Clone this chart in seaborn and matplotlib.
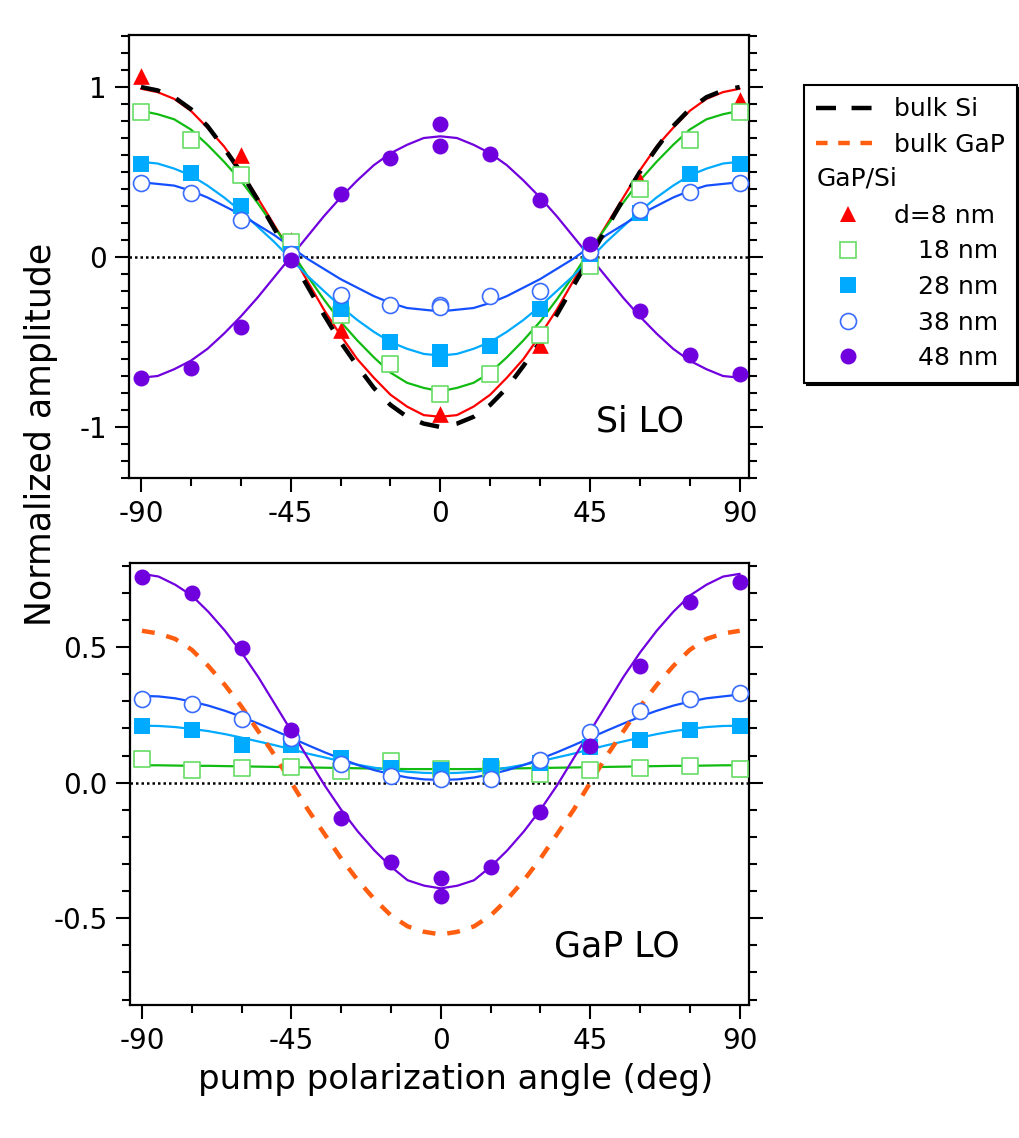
import matplotlib
matplotlib.use("Agg")
import matplotlib.pyplot as plt
import seaborn as sns
from matplotlib.lines import Line2D
from matplotlib.text import Text
from matplotlib.legend_handler import HandlerBase
from matplotlib.ticker import MultipleLocator, FixedLocator, FormatStrFormatter

# ---------- data ----------
ANGLES = [-90, -75, -60, -45, -30, -15, 0, 15, 30, 45, 60, 75, 90]
CURVE_ANGLES = list(range(-90, 91, 5))

# Si LO panel: fitted curves (read every 5 deg)
si_bulk_si = [1.0, 0.98, 0.94, 0.87, 0.77, 0.64, 0.5, 0.34, 0.17, 0.0, -0.17, -0.34, -0.5,
              -0.64, -0.77, -0.87, -0.94, -0.98, -1.0, -0.98, -0.94, -0.87, -0.77, -0.64,
              -0.5, -0.34, -0.17, 0.0, 0.17, 0.34, 0.5, 0.64, 0.77, 0.87, 0.94, 0.98, 1.0]
si_fit_8 = [0.99, 0.97, 0.93, 0.86, 0.76, 0.65, 0.51, 0.35, 0.19, 0.03, -0.14, -0.31, -0.46,
            -0.6, -0.71, -0.81, -0.88, -0.93, -0.94, -0.93, -0.88, -0.81, -0.71, -0.6,
            -0.46, -0.31, -0.14, 0.03, 0.19, 0.35, 0.51, 0.65, 0.76, 0.86, 0.93, 0.97, 0.99]
si_fit_18 = [0.86, 0.84, 0.81, 0.75, 0.66, 0.56, 0.45, 0.32, 0.18, 0.04, -0.11, -0.25, -0.38,
             -0.49, -0.59, -0.68, -0.74, -0.77, -0.79, -0.77, -0.74, -0.68, -0.59, -0.49,
             -0.38, -0.25, -0.11, 0.04, 0.18, 0.32, 0.45, 0.56, 0.66, 0.75, 0.81, 0.84, 0.86]
si_fit_28 = [0.56, 0.55, 0.52, 0.48, 0.42, 0.35, 0.27, 0.18, 0.09, -0.01, -0.11, -0.2, -0.29,
             -0.37, -0.44, -0.5, -0.54, -0.57, -0.58, -0.57, -0.54, -0.5, -0.44, -0.37,
             -0.29, -0.2, -0.11, -0.01, 0.09, 0.18, 0.27, 0.35, 0.42, 0.48, 0.52, 0.55, 0.56]
si_fit_38 = [0.44, 0.43, 0.42, 0.39, 0.35, 0.3, 0.25, 0.19, 0.13, 0.06, -0.01, -0.07, -0.13,
             -0.18, -0.23, -0.27, -0.3, -0.31, -0.32, -0.31, -0.3, -0.27, -0.23, -0.18,
             -0.13, -0.07, -0.01, 0.06, 0.13, 0.19, 0.25, 0.3, 0.35, 0.39, 0.42, 0.43, 0.44]
si_fit_48 = [-0.71, -0.7, -0.66, -0.61, -0.54, -0.45, -0.35, -0.24, -0.12, 0.0, 0.12, 0.24,
             0.35, 0.45, 0.54, 0.61, 0.66, 0.7, 0.71, 0.7, 0.66, 0.61, 0.54, 0.45, 0.35,
             0.24, 0.12, 0.0, -0.12, -0.24, -0.35, -0.45, -0.54, -0.61, -0.66, -0.7, -0.71]

# Si LO panel: measured points
si_x_8 = [-90, -60, -45, -30, 0, 30, 60, 90]
si_y_8 = [1.065, 0.6, 0.1, -0.43, -0.925, -0.52, 0.445, 0.925]
si_y_18 = [0.855, 0.69, 0.48, 0.09, -0.34, -0.63, -0.805, -0.69, -0.46, -0.055, 0.4, 0.69, 0.855]
si_x_28 = ANGLES + [0]
si_y_28 = [0.55, 0.495, 0.3, 0.02, -0.305, -0.5, -0.56, -0.525, -0.305, 0.015, 0.26, 0.49, 0.55, -0.6]
si_x_38 = ANGLES + [0]
si_y_38 = [0.437, 0.375, 0.215, 0.02, -0.225, -0.28, -0.28, -0.23, -0.2, 0.03, 0.275, 0.385, 0.435, -0.295]
si_x_48 = ANGLES + [0]
si_y_48 = [-0.71, -0.655, -0.41, -0.02, 0.37, 0.585, 0.785, 0.605, 0.335, 0.075, -0.315, -0.575, -0.69, 0.655]

# GaP LO panel: fitted curves (read every 5 deg)
gap_bulk_gap = [0.56, 0.55, 0.53, 0.49, 0.43, 0.36, 0.28, 0.19, 0.1, 0.0, -0.1, -0.19, -0.28,
                -0.36, -0.43, -0.49, -0.53, -0.55, -0.56, -0.55, -0.53, -0.49, -0.43, -0.36,
                -0.28, -0.19, -0.1, 0.0, 0.1, 0.19, 0.28, 0.36, 0.43, 0.49, 0.53, 0.55, 0.56]
gap_fit_18 = [0.064, 0.064, 0.063, 0.062, 0.062, 0.061, 0.06, 0.059, 0.058, 0.057, 0.056,
              0.055, 0.054, 0.053, 0.052, 0.051, 0.05, 0.05, 0.05, 0.05, 0.05, 0.051, 0.052,
              0.053, 0.054, 0.055, 0.056, 0.057, 0.058, 0.059, 0.06, 0.061, 0.062, 0.062,
              0.063, 0.064, 0.064]
gap_fit_28 = [0.21, 0.209, 0.205, 0.198, 0.19, 0.179, 0.166, 0.152, 0.138, 0.123, 0.107,
              0.093, 0.079, 0.066, 0.055, 0.047, 0.04, 0.036, 0.035, 0.036, 0.04, 0.047,
              0.055, 0.066, 0.079, 0.093, 0.107, 0.123, 0.138, 0.152, 0.166, 0.179, 0.19,
              0.198, 0.205, 0.209, 0.21]
gap_fit_38 = [0.32, 0.318, 0.311, 0.299, 0.284, 0.265, 0.243, 0.218, 0.192, 0.165, 0.138,
              0.112, 0.088, 0.065, 0.046, 0.031, 0.019, 0.012, 0.01, 0.012, 0.019, 0.031,
              0.046, 0.065, 0.088, 0.112, 0.138, 0.165, 0.192, 0.218, 0.243, 0.265, 0.284,
              0.299, 0.311, 0.318, 0.325]
gap_fit_48 = [0.77, 0.76, 0.73, 0.69, 0.63, 0.56, 0.48, 0.39, 0.29, 0.19, 0.09, -0.01, -0.1,
              -0.18, -0.25, -0.31, -0.36, -0.38, -0.39, -0.38, -0.36, -0.31, -0.25, -0.18,
              -0.1, -0.01, 0.09, 0.19, 0.29, 0.39, 0.48, 0.56, 0.63, 0.69, 0.73, 0.76, 0.77]

# GaP LO panel: measured points
gap_y_18 = [0.086, 0.046, 0.055, 0.059, 0.043, 0.08, 0.05, 0.05, 0.032, 0.045, 0.055, 0.062, 0.052]
gap_y_28 = [0.21, 0.195, 0.14, 0.137, 0.09, 0.055, 0.045, 0.063, 0.072, 0.13, 0.157, 0.193, 0.21]
gap_y_38 = [0.31, 0.29, 0.235, 0.165, 0.067, 0.023, 0.012, 0.015, 0.085, 0.185, 0.265, 0.31, 0.33]
gap_x_48 = ANGLES + [0]
gap_y_48 = [0.76, 0.7, 0.495, 0.195, -0.132, -0.294, -0.352, -0.31, -0.108, 0.135, 0.43, 0.665, 0.74, -0.419]

LEGEND_LABELS = ["bulk Si", "bulk GaP", "GaP/Si", "d=8 nm", "   18 nm", "   28 nm", "   38 nm", "   48 nm"]

# ---------- style ----------
RED = "#ff0000"
GREEN_LINE = "#11bb11"
GREEN_MK = "#66dd66"
LBLUE = "#00aaff"
BLUE_LINE = "#1450ff"
BLUE_MK = "#3a6cff"
PURPLE = "#7000dd"
ORANGE = "#ff5e10"

sns.set_style("ticks")
plt.rcParams["font.family"] = ["DejaVu Sans"]
plt.rcParams["axes.unicode_minus"] = False
for key in ("text.color", "axes.labelcolor", "xtick.color", "ytick.color", "axes.edgecolor"):
    plt.rcParams[key] = "black"

fig = plt.figure(figsize=(10.2, 11.38), dpi=100)
ax1 = fig.add_axes([129 / 1020, 1 - 478 / 1138, 620 / 1020, 443 / 1138])
ax2 = fig.add_axes([130 / 1020, 1 - 1005 / 1138, 619 / 1020, 442 / 1138])


def fit_line(ax, y, color, lw=1.6, dashes=None, z=2):
    sns.lineplot(x=CURVE_ANGLES, y=y, ax=ax, color=color, lw=lw,
                 estimator=None, sort=False, zorder=z)
    if dashes is not None:
        ax.lines[-1].set_dashes(dashes)
        ax.lines[-1].set_dash_capstyle("butt")


def points(ax, x, y, marker, size, face, edge, lw=1.2):
    sns.scatterplot(x=x, y=y, ax=ax, marker=marker, s=size ** 2, color=face,
                    edgecolor=edge, linewidth=lw, zorder=3)


# ---- Si LO ----
ax1.axhline(0, color="black", lw=1.8, ls=(0, (1, 1.2)), zorder=1)
fit_line(ax1, si_fit_8, RED)
fit_line(ax1, si_fit_18, GREEN_LINE)
fit_line(ax1, si_fit_28, LBLUE)
fit_line(ax1, si_fit_38, BLUE_LINE)
fit_line(ax1, si_fit_48, PURPLE)
fit_line(ax1, si_bulk_si, "black", lw=3.2, dashes=(4.4, 4.0), z=2.5)
points(ax1, si_x_8, si_y_8, "^", 12, RED, RED, 0)
points(ax1, ANGLES, si_y_18, "s", 11, "white", GREEN_MK)
points(ax1, si_x_28, si_y_28, "s", 11, LBLUE, LBLUE, 0)
points(ax1, si_x_38, si_y_38, "o", 11.5, "white", BLUE_MK)
points(ax1, si_x_48, si_y_48, "o", 11.5, PURPLE, PURPLE, 0)
ax1.text(60, -0.965, "Si LO", fontsize=25, ha="center", va="center")

# ---- GaP LO ----
ax2.axhline(0, color="black", lw=1.8, ls=(0, (1, 1.2)), zorder=1)
fit_line(ax2, gap_fit_18, GREEN_LINE)
fit_line(ax2, gap_fit_28, LBLUE)
fit_line(ax2, gap_fit_38, BLUE_LINE)
fit_line(ax2, gap_fit_48, PURPLE)
fit_line(ax2, gap_bulk_gap, ORANGE, lw=3.2, dashes=(2.9, 2.7), z=2.5)
points(ax2, ANGLES, gap_y_18, "s", 11, "white", GREEN_MK)
points(ax2, ANGLES, gap_y_28, "s", 11, LBLUE, LBLUE, 0)
points(ax2, ANGLES, gap_y_38, "o", 11.5, "white", BLUE_MK)
points(ax2, gap_x_48, gap_y_48, "o", 11.5, PURPLE, PURPLE, 0)
ax2.text(53, -0.605, "GaP LO", fontsize=25, ha="center", va="center")

for ax in (ax1, ax2):
    ax.set_xlim(-93.6, 92.8)
    ax.xaxis.set_major_locator(FixedLocator([-90, -45, 0, 45, 90]))
    ax.xaxis.set_minor_locator(MultipleLocator(15))
    ax.yaxis.set_minor_locator(MultipleLocator(0.1))
    ax.tick_params(which="both", direction="out", width=1.5, labelsize=20,
                   colors="black", left=True, right=True, top=False, bottom=True,
                   labelright=False)
    ax.tick_params(which="major", length=10, pad=6)
    ax.tick_params(which="minor", length=6)
    for sp in ax.spines.values():
        sp.set_visible(True)
        sp.set_linewidth(1.6)
        sp.set_color("black")
    ax.set_xlabel("")
    ax.set_ylabel("")

ax1.set_ylim(-1.3, 1.306)
ax1.yaxis.set_major_locator(FixedLocator([-1, 0, 1]))
ax1.yaxis.set_major_formatter(FormatStrFormatter("%g"))
ax2.set_ylim(-0.82, 0.81)
ax2.yaxis.set_major_locator(FixedLocator([-0.5, 0.0, 0.5]))
ax2.yaxis.set_major_formatter(FormatStrFormatter("%.1f"))

fig.text(41 / 1020, 1 - 434 / 1138, "Normalized amplitude", rotation=90,
         fontsize=25, ha="center", va="center")
fig.text(456 / 1020, 1 - 1080 / 1138, "pump polarization angle (deg)",
         fontsize=24.5, ha="center", va="center")


# ---------- legend ----------
class Header:
    def __init__(self, text):
        self.text = text


class HeaderHandler(HandlerBase):
    def create_artists(self, legend, orig_handle, xdescent, ydescent,
                       width, height, fontsize, trans):
        t = Text(-xdescent, height / 2 - ydescent, orig_handle.text,
                 fontsize=fontsize, color="black", ha="left", va="center",
                 transform=trans)
        return [t]


handles = [
    Line2D([], [], color="black", lw=3.2, dashes=(4.5, 3.5), dash_capstyle="butt"),
    Line2D([], [], color=ORANGE, lw=3.2, dashes=(2.6, 2.4), dash_capstyle="butt"),
    Header(LEGEND_LABELS[2]),
    Line2D([], [], ls="none", marker="^", ms=12, color=RED, mew=0),
    Line2D([], [], ls="none", marker="s", ms=11, mfc="white", mec=GREEN_MK, mew=1.2),
    Line2D([], [], ls="none", marker="s", ms=11, color=LBLUE, mew=0),
    Line2D([], [], ls="none", marker="o", ms=11.5, mfc="white", mec=BLUE_MK, mew=1.2),
    Line2D([], [], ls="none", marker="o", ms=11.5, color=PURPLE, mew=0),
]
labels = [LEGEND_LABELS[0], LEGEND_LABELS[1], ""] + LEGEND_LABELS[3:]
leg = fig.legend(handles, labels, handler_map={Header: HeaderHandler()},
                 loc="upper left", bbox_to_anchor=(804 / 1020, 1 - 85 / 1138),
                 bbox_transform=fig.transFigure, fontsize=18, frameon=True,
                 fancybox=False, edgecolor="black", framealpha=1,
                 borderaxespad=0, borderpad=0.5, handlelength=2.5,
                 handletextpad=0.6, labelspacing=0.46,
                 shadow={"color": "black", "alpha": 1})
leg.get_frame().set_linewidth(1.5)

fig.savefig("out.png", dpi=100)
